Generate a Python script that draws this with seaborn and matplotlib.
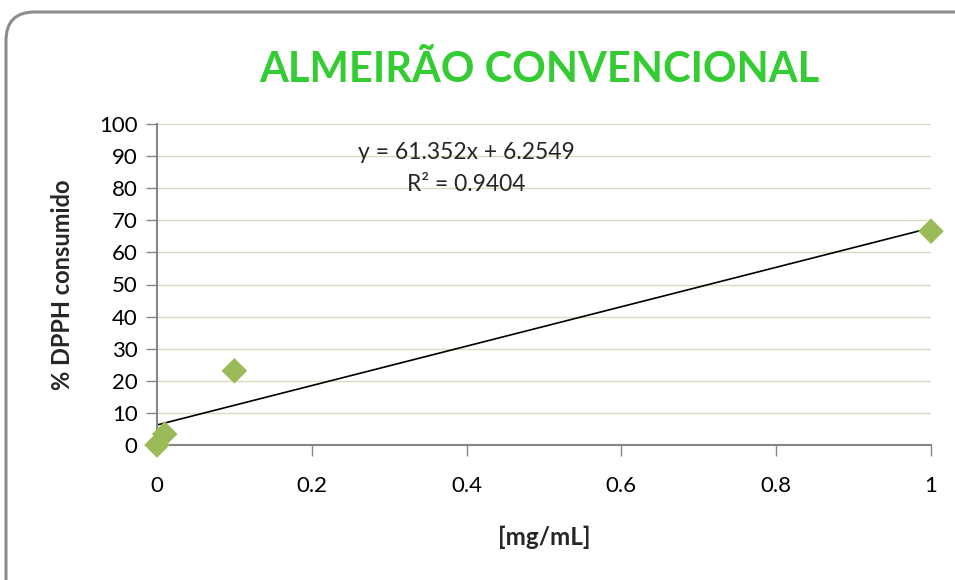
import numpy as np
import pandas as pd
import matplotlib
matplotlib.use('Agg')
import matplotlib.pyplot as plt
from matplotlib.patches import FancyBboxPatch
import seaborn as sns

# data
concentration = [0.0, 0.01, 0.1, 1.0]
dpph_consumed = [0.0, 3.4, 23.1, 66.6]
y_ticks = [0, 10, 20, 30, 40, 50, 60, 70, 80, 90, 100]
x_ticks = [0, 0.2, 0.4, 0.6, 0.8, 1]
x_tick_labels = ['0', '0.2', '0.4', '0.6', '0.8', '1']
equation_text = 'y = 61.352x + 6.2549'
r2_text = 'R² = 0.9404'

df = pd.DataFrame({'conc': concentration, 'dpph': dpph_consumed})

sns.set_style('white')
plt.rcParams['font.family'] = ['Lato', 'DejaVu Sans']

fig = plt.figure(figsize=(9.55, 5.8), dpi=100)
ax = fig.add_axes([157 / 955, 1 - 445 / 580, (931 - 157) / 955, (445 - 124) / 580])

# rounded border around the chart area
top = 1 - 12 / 580
border = FancyBboxPatch((6 / 955, -0.05), 1.05, top + 0.05,
                        boxstyle='round,pad=0,rounding_size=0.03',
                        transform=fig.transFigure, facecolor='none',
                        edgecolor='#8c8c8c', linewidth=2.2, clip_on=False,
                        mutation_aspect=955 / 580)
fig.patches.append(border)

for yt in y_ticks[1:]:
    ax.axhline(yt, color='#ddd8c0', linewidth=1, zorder=0)

sns.regplot(data=df, x='conc', y='dpph', ci=None, ax=ax, marker='D',
            scatter_kws=dict(s=170, color='#9bbb59', alpha=1, edgecolor='none',
                             zorder=3, clip_on=False),
            line_kws=dict(color='black', linewidth=1.2, zorder=2))

ax.set_xlim(0, 1)
ax.set_ylim(0, 100)
ax.set_xticks(x_ticks)
ax.set_xticklabels(x_tick_labels)
ax.set_yticks(y_ticks)
ax.tick_params(axis='both', direction='out', length=8, width=1, color='#868686',
               labelsize=16, labelcolor='black', bottom=True, left=True)
ax.tick_params(axis='x', pad=14)
ax.tick_params(axis='y', pad=6)
for side in ['top', 'right']:
    ax.spines[side].set_visible(False)
for side in ['left', 'bottom']:
    ax.spines[side].set_color('#868686')
    ax.spines[side].set_linewidth(1.5)

ax.set_xlabel('[mg/mL]', fontsize=17.5, fontweight='bold', labelpad=22)
ax.set_ylabel('% DPPH consumido', fontsize=17, fontweight='bold', labelpad=18)

ax.text(0.4, 91, equation_text, ha='center', va='center', fontsize=16.5)
ax.text(0.4, 81, r2_text, ha='center', va='center', fontsize=16.5)

fig.text(0.565, 1 - 70 / 580, 'ALMEIRÃO CONVENCIONAL', ha='center', va='center',
         fontsize=30, fontweight='bold', color='#33cc33')

fig.savefig('out.png', dpi=100)
